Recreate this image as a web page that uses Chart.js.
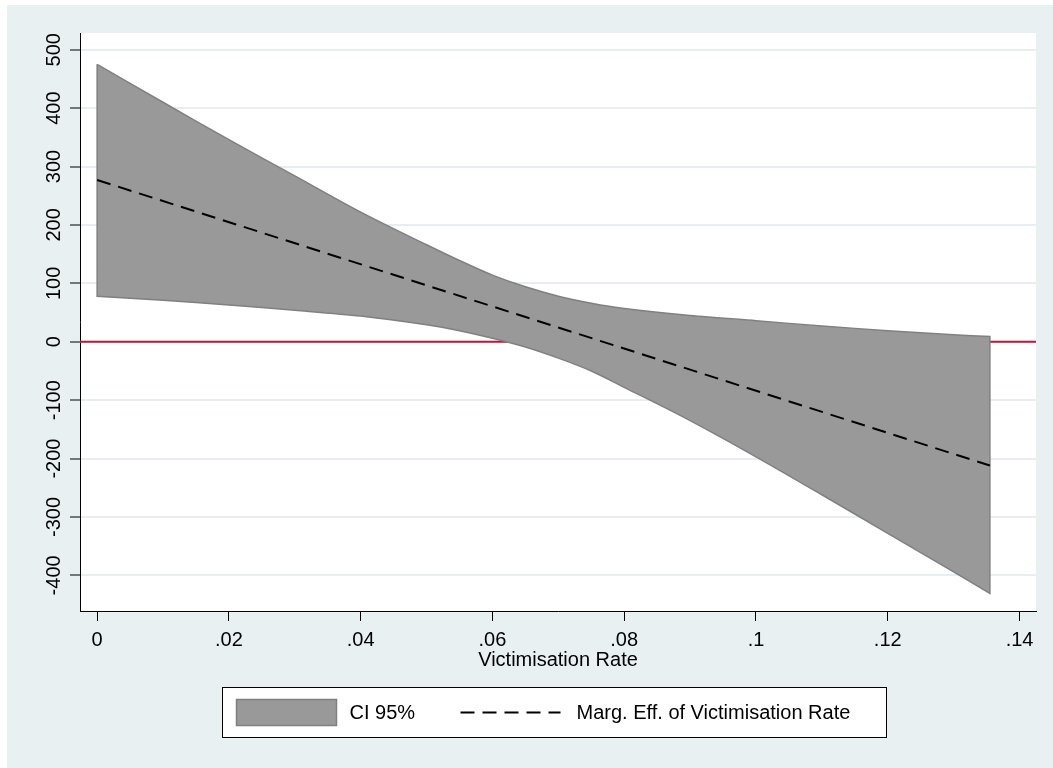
<!DOCTYPE html>
<html>
<head>
<meta charset="utf-8">
<script src="https://cdn.jsdelivr.net/npm/chart.js@4.4.1/dist/chart.umd.min.js"></script>
<style>
  html, body { margin: 0; padding: 0; background: #ffffff; }
  #wrap { width: 1053px; height: 768px; }
</style>
</head>
<body>
<div id="wrap"><canvas id="c" width="1053" height="768"></canvas></div>
<script>
// ---- data ----
const xValues   = [0, 0.01, 0.02, 0.03, 0.04, 0.05, 0.055, 0.06, 0.065, 0.07, 0.075, 0.08, 0.09, 0.10, 0.11, 0.12, 0.13, 0.1355];
const ciUpper   = [475, 410, 346, 284, 222, 166, 139, 114, 94, 78, 66, 57, 45, 36, 27, 19, 12, 9];
const ciLower   = [78, 71, 63, 54, 44, 29, 19, 6, -9, -28, -50, -78, -135, -197, -262, -328, -394, -431];
const effectX   = [0, 0.1355];
const effectY   = [277, -212];
const xTicks    = [0, 0.02, 0.04, 0.06, 0.08, 0.10, 0.12, 0.14];
const yTicks    = [-400, -300, -200, -100, 0, 100, 200, 300, 400, 500];
const xRange    = [-0.0026, 0.1425];
const yRange    = [-461, 528.6];
const refLineY  = 0;
const labels    = { ci: 'CI 95%', effect: 'Marg. Eff. of Victimisation Rate', xTitle: 'Victimisation Rate' };

// ---- build datasets ----
// closed outline of the band; corner points are repeated so the smoothing keeps the corners sharp
const bandPoints = [];
const n = xValues.length;
bandPoints.push({ x: xValues[0], y: ciUpper[0] });
xValues.forEach((x, i) => bandPoints.push({ x: x, y: ciUpper[i] }));
bandPoints.push({ x: xValues[n - 1], y: ciUpper[n - 1] });
for (let i = n - 1; i >= 0; i--) {
  bandPoints.push({ x: xValues[i], y: ciLower[i] });
  if (i === n - 1 || i === 0) bandPoints.push({ x: xValues[i], y: ciLower[i] });
}
bandPoints.push({ x: xValues[0], y: ciUpper[0] });
bandPoints.push({ x: xValues[0], y: ciUpper[0] });

const effectPoints = effectX.map((x, i) => ({ x: x, y: effectY[i] }));
const refPoints = [{ x: xRange[0], y: refLineY }, { x: xRange[1], y: refLineY }];

const FONT = "'Liberation Sans', Arial, Helvetica, sans-serif";
const PANEL = '#e8f0f2';
const BAND_FILL = '#999999';
const BAND_LINE = '#808080';
const RED = '#c8103c';

function fmtX(v) {
  const s = String(+Number(v).toFixed(2));
  return s.replace(/^0\./, '.').replace(/^-0\./, '-.');
}

const decor = {
  id: 'decor',
  beforeDraw(chart) {
    const { ctx, chartArea: a } = chart;
    ctx.save();
    ctx.fillStyle = '#ffffff';
    ctx.fillRect(0, 0, chart.width, chart.height);
    ctx.fillStyle = PANEL;
    ctx.fillRect(7, 5, chart.width - 7, chart.height - 5);
    ctx.fillStyle = '#ffffff';
    ctx.fillRect(a.left, a.top, a.right - a.left, a.bottom - a.top);
    ctx.restore();
  },
  afterDraw(chart) {
    const { ctx, chartArea: a } = chart;
    const ds = chart.data.datasets;
    const cx = (a.left + a.right) / 2 - 4;
    const bw = 664, bh = 50;
    const bx = Math.round(cx - bw / 2) + 0.5;
    const by = 687.5;
    ctx.save();
    ctx.fillStyle = '#ffffff';
    ctx.fillRect(bx, by, bw, bh);
    ctx.strokeStyle = '#000000';
    ctx.lineWidth = 1;
    ctx.strokeRect(bx, by, bw, bh);
    const midY = by + bh / 2;
    // swatch for CI band
    const sx = bx + 14, sw = 100, sh = 26;
    ctx.fillStyle = ds[1].backgroundColor;
    ctx.fillRect(sx, midY - sh / 2, sw, sh);
    ctx.strokeStyle = ds[1].borderColor;
    ctx.lineWidth = 1.5;
    ctx.strokeRect(sx, midY - sh / 2, sw, sh);
    ctx.font = '20px ' + FONT;
    ctx.fillStyle = '#000000';
    ctx.textBaseline = 'middle';
    ctx.textAlign = 'left';
    ctx.fillText(ds[1].label, sx + sw + 13, midY + 1);
    // dashed sample
    const lx = bx + 238;
    ctx.strokeStyle = ds[0].borderColor;
    ctx.lineWidth = 2;
    ctx.setLineDash(ds[0].borderDash);
    ctx.beginPath();
    ctx.moveTo(lx, midY);
    ctx.lineTo(lx + 100, midY);
    ctx.stroke();
    ctx.setLineDash([]);
    ctx.fillText(ds[0].label, lx + 116, midY + 1);
    ctx.restore();
  }
};

new Chart(document.getElementById('c'), {
  type: 'line',
  data: {
    datasets: [
      {
        label: labels.effect,
        data: effectPoints,
        borderColor: '#000000',
        borderWidth: 2,
        borderDash: [14, 8],
        pointRadius: 0,
        fill: false,
        tension: 0
      },
      {
        label: labels.ci,
        data: bandPoints,
        borderColor: BAND_LINE,
        backgroundColor: BAND_FILL,
        borderWidth: 1.5,
        pointRadius: 0,
        fill: 'shape',
        tension: 0.3
      },
      {
        label: 'zero',
        data: refPoints,
        borderColor: RED,
        borderWidth: 2,
        pointRadius: 0,
        fill: false
      }
    ]
  },
  options: {
    responsive: false,
    animation: false,
    devicePixelRatio: 1,
    layout: { padding: { left: 0, right: 17, top: 33, bottom: 96 } },
    plugins: {
      legend: { display: false },
      tooltip: { enabled: false },
      title: { display: false }
    },
    scales: {
      x: {
        type: 'linear',
        min: xRange[0],
        max: xRange[1],
        afterFit(scale) { scale.height = 61; },
        afterBuildTicks(scale) { scale.ticks = xTicks.map(v => ({ value: v })); },
        ticks: {
          includeBounds: false,
          stepSize: 0.02,
          padding: 7,
          color: '#000000',
          font: { family: FONT, size: 20 },
          maxRotation: 0,
          minRotation: 0,
          autoSkip: false,
          callback: (v) => fmtX(v)
        },
        grid: {
          drawOnChartArea: false,
          drawTicks: true,
          tickLength: 10,
          tickColor: '#000000',
          tickWidth: 1
        },
        border: { display: true, color: '#000000', width: 1 },
        title: {
          display: true,
          text: labels.xTitle,
          color: '#000000',
          font: { family: FONT, size: 20 },
          padding: { top: 0, bottom: 0 }
        }
      },
      y: {
        type: 'linear',
        min: yRange[0],
        max: yRange[1],
        afterFit(scale) { scale.width = 80; },
        afterBuildTicks(scale) { scale.ticks = yTicks.map(v => ({ value: v })); },
        ticks: {
          includeBounds: false,
          stepSize: 100,
          minRotation: 90,
          maxRotation: 90,
          crossAlign: 'center',
          padding: -4,
          color: '#000000',
          font: { family: FONT, size: 20 },
          autoSkip: false,
          callback: (v) => String(v)
        },
        grid: {
          color: '#e6eef1',
          lineWidth: 2,
          drawTicks: true,
          tickLength: 10,
          tickColor: '#000000',
          tickWidth: 1
        },
        border: { display: true, color: '#000000', width: 1 }
      }
    }
  },
  plugins: [decor]
});
</script>
</body>
</html>
